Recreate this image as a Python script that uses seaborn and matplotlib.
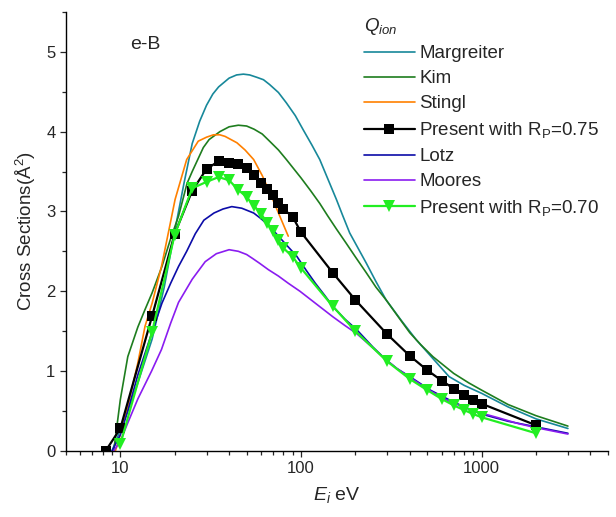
import numpy as np
import pandas as pd
import matplotlib
matplotlib.use("Agg")
import matplotlib.pyplot as plt
import matplotlib.ticker as mticker
import seaborn as sns

# ---- data ----
# Margreiter
marg_E = [9, 10, 11, 12.5, 15, 17.5, 20, 22.5, 25, 27.5, 30, 32.5, 35, 40, 44, 48, 52, 57, 62,
          67, 75, 83, 93, 103, 115, 127, 140, 157, 170, 186, 230, 260, 296, 360, 435, 540, 660,
          800, 1000, 1400, 2000, 3000]
marg_Q = [0, 0.26, 0.5, 0.85, 1.40, 2.05, 2.75, 3.35, 3.85, 4.13, 4.33, 4.47, 4.56, 4.67, 4.71,
          4.72, 4.71, 4.68, 4.65, 4.59, 4.49, 4.36, 4.20, 4.02, 3.83, 3.65, 3.42, 3.15, 2.95,
          2.73, 2.35, 2.12, 1.89, 1.63, 1.39, 1.15, 0.93, 0.82, 0.72, 0.55, 0.40, 0.28]

# Kim
kim_E = [9.2, 10, 11, 12.5, 13.7, 15, 17, 19, 21, 23.4, 25, 28.8, 31, 35.6, 40, 45, 50, 55, 61,
         67, 75, 83, 90, 100, 113, 127, 140, 157, 178, 200, 230, 260, 296, 340, 400, 460, 537,
         700, 850, 1000, 1400, 2000, 3000]
kim_Q = [0, 0.64, 1.18, 1.55, 1.77, 1.98, 2.31, 2.66, 2.94, 3.35, 3.50, 3.80, 3.90, 4.00, 4.06,
         4.08, 4.07, 4.03, 3.97, 3.88, 3.77, 3.65, 3.55, 3.42, 3.26, 3.10, 2.95, 2.78, 2.60,
         2.43, 2.23, 2.05, 1.89, 1.70, 1.48, 1.33, 1.18, 0.97, 0.85, 0.76, 0.58, 0.44, 0.31]

# Stingl
stingl_E = [9.4, 10, 11, 12.5, 13.7, 15, 16.9, 18.9, 20.1, 23.3, 27, 30, 32.8, 35.5, 38, 44.2,
            49, 54.7, 61, 67.4, 76, 85]
stingl_Q = [0, 0.2, 0.55, 1.1, 1.56, 1.85, 2.31, 2.85, 3.15, 3.65, 3.88, 3.93, 3.96, 3.96, 3.94,
            3.86, 3.77, 3.65, 3.45, 3.23, 2.95, 2.69]

# Present with R_P = 0.75
p75_E = [8.3, 10, 15, 20, 25, 30, 35, 40, 45, 50, 55, 60, 65, 70, 75, 80, 90, 100, 150, 200,
         300, 400, 500, 600, 700, 800, 900, 1000, 2000]
p75_Q = [0, 0.28, 1.69, 2.72, 3.26, 3.53, 3.63, 3.61, 3.60, 3.54, 3.45, 3.36, 3.28, 3.20,
         3.11, 3.03, 2.93, 2.74, 2.23, 1.89, 1.46, 1.19, 1.01, 0.88, 0.78, 0.70, 0.64, 0.59, 0.32]

# Lotz
lotz_E = [9.0, 10, 11, 12.5, 14.9, 17, 19, 21, 23.3, 26, 29, 33, 37, 41.4, 47, 54.7, 60, 67.4,
          73, 80, 87, 94.6, 107, 120, 135, 150, 175, 203, 250, 296, 340, 400, 520, 660, 800,
          1000, 1400, 2000, 3000]
lotz_Q = [0, 0.2, 0.5, 0.95, 1.47, 1.85, 2.1, 2.31, 2.5, 2.72, 2.89, 2.98, 3.03, 3.06, 3.04,
          2.98, 2.91, 2.81, 2.72, 2.62, 2.53, 2.44, 2.26, 2.10, 1.95, 1.81, 1.65, 1.52, 1.30,
          1.14, 1.03, 0.93, 0.76, 0.64, 0.55, 0.46, 0.37, 0.30, 0.22]

# Moores
moores_E = [9.2, 10, 11, 12.5, 14.9, 16.9, 19, 21, 25, 29.5, 34, 40, 45, 50, 54, 59, 66, 75, 85,
            98.6, 120, 150, 175, 203, 250, 296, 340, 400, 520, 660, 900, 1255, 1600, 2000, 3000]
moores_Q = [0, 0.12, 0.35, 0.65, 1.0, 1.27, 1.6, 1.86, 2.15, 2.37, 2.47, 2.52, 2.50, 2.46,
            2.41, 2.35, 2.27, 2.19, 2.10, 2.00, 1.85, 1.68, 1.57, 1.47, 1.29, 1.14, 1.03, 0.92,
            0.75, 0.62, 0.50, 0.41, 0.34, 0.29, 0.21]

# Present with R_P = 0.70
p70_E = [10, 15, 20, 25, 30, 35, 40, 45, 50, 55, 60, 65, 70, 75, 80, 90, 100, 150, 200, 300,
         400, 500, 600, 700, 800, 900, 1000, 2000]
p70_Q = [0.08, 1.49, 2.71, 3.29, 3.37, 3.43, 3.39, 3.27, 3.18, 3.07, 2.97, 2.86, 2.75, 2.64,
         2.54, 2.43, 2.29, 1.81, 1.50, 1.12, 0.90, 0.76, 0.65, 0.57, 0.51, 0.46, 0.42, 0.22]

# Style
sns.set_theme(style="ticks")
plt.rcParams['font.family'] = ['Liberation Sans', 'DejaVu Sans']
plt.rcParams['mathtext.fontset'] = 'custom'
plt.rcParams['mathtext.rm'] = 'Liberation Sans'
plt.rcParams['mathtext.it'] = 'Liberation Sans:italic'

fig, ax = plt.subplots(figsize=(6.16, 5.17), dpi=100)
fig.subplots_adjust(left=0.107, right=0.987, bottom=0.128, top=0.977)

series = [
    ("Margreiter", marg_E, marg_Q, dict(color='#17889a', lw=1.2)),
    ("Kim", kim_E, kim_Q, dict(color='#1e7d1e', lw=1.2)),
    ("Stingl", stingl_E, stingl_Q, dict(color='#ff8000', lw=1.2)),
    ("Present with R$_\\mathrm{P}$=0.75", p75_E, p75_Q,
     dict(color='black', lw=1.6, marker='s', markersize=6.5, markeredgewidth=0, zorder=5)),
    ("Lotz", lotz_E, lotz_Q, dict(color='#0c0ca8', lw=1.2)),
    ("Moores", moores_E, moores_Q, dict(color='#8a1cf0', lw=1.2)),
    ("Present with R$_\\mathrm{P}$=0.70", p70_E, p70_Q,
     dict(color='#22ee22', lw=1.6, marker='v', markersize=8, markeredgewidth=0, zorder=6)),
]

handles = []
for name, E, Q, kw in series:
    df = pd.DataFrame({'E': E, 'Q': Q})
    sns.lineplot(data=df, x='E', y='Q', ax=ax, sort=False, estimator=None, **kw)
    handles.append(ax.lines[-1])

ax.set_xscale('log')
ax.set_xlim(5, 5000)
ax.set_ylim(0, 5.5)
ax.xaxis.set_major_locator(mticker.FixedLocator([10, 100, 1000]))
ax.xaxis.set_major_formatter(mticker.FixedFormatter(['10', '100', '1000']))
ax.xaxis.set_minor_locator(mticker.LogLocator(base=10, subs=np.arange(2, 10)))
ax.xaxis.set_minor_formatter(mticker.NullFormatter())
ax.yaxis.set_major_locator(mticker.MultipleLocator(1))
ax.yaxis.set_minor_locator(mticker.MultipleLocator(0.5))

ax.tick_params(which='major', direction='out', length=4.5, width=0.9, labelsize=12, pad=3)
ax.tick_params(which='minor', direction='out', length=2.6, width=0.9)
for s in ['left', 'bottom']:
    ax.spines[s].set_linewidth(1.0)
    ax.spines[s].set_color('black')
sns.despine(ax=ax)

ax.set_xlabel('$E_i$ eV', fontsize=14, labelpad=6)
ax.set_ylabel('Cross Sections(Å$^2$)', fontsize=13.5, labelpad=6)

ax.text(0.118, 0.925, 'e-B', transform=ax.transAxes, fontsize=14, va='center', ha='left')

leg = ax.legend(handles=handles, labels=[s[0] for s in series], title='$Q_{ion}$',
                loc='upper left', bbox_to_anchor=(0.526, 1.02), frameon=False,
                fontsize=13.5, title_fontsize=13.5, handlelength=2.7, handletextpad=0.25,
                labelspacing=0.42, borderpad=0.2, alignment='left')

fig.savefig('out.png', dpi=100)
